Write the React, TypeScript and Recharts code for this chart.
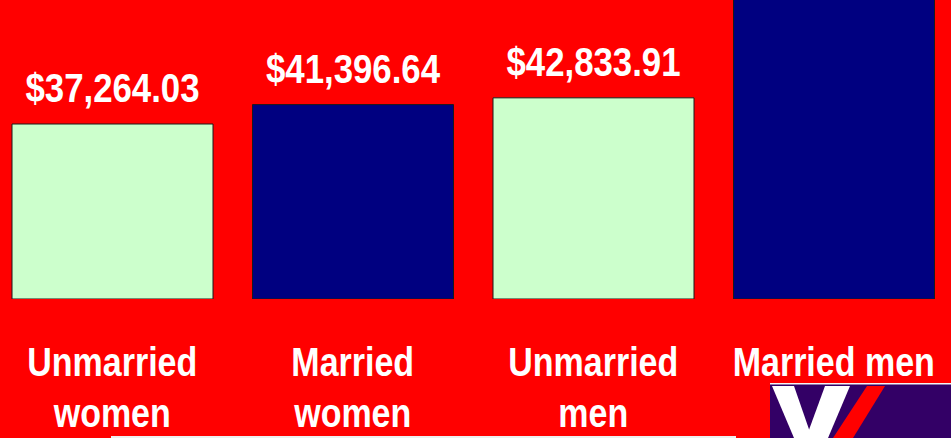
import { BarChart, Bar, XAxis, YAxis, Cell, LabelList } from 'recharts';

const categories = ['Unmarried women', 'Married women', 'Unmarried men', 'Married men'];
const tickLines = [['Unmarried', 'women'], ['Married', 'women'], ['Unmarried', 'men'], ['Married men']];
const incomes = [37264.03, 41396.64, 42833.91, 65000];
const barColors = ['#CCFFCC', '#000080', '#CCFFCC', '#000080'];

const data = categories.map((name, i) => ({ name, income: incomes[i] }));

const FONT = "'Liberation Sans', Arial, sans-serif";

const money = (v: number) =>
  '$' + v.toLocaleString('en-US', { minimumFractionDigits: 2, maximumFractionDigits: 2 });

// narrow bold look of the original slide font
function CategoryTick(props: any) {
  const { x, y, index } = props;
  const lines = tickLines[index] || [];
  return (
    <g>
      {lines.map((line, i) => (
        <text
          key={i}
          transform={`translate(${x} ${y + 77 + i * 51}) scale(0.85 1)`}
          textAnchor="middle"
          fill="#fff"
          fontFamily={FONT}
          fontWeight="bold"
          fontSize={40}
        >
          {line}
        </text>
      ))}
    </g>
  );
}

function ValueLabel(props: any) {
  const { x, y, width, value } = props;
  const ty = y - 22;
  if (ty < 30) return null; // above the slide edge, not visible
  return (
    <text
      transform={`translate(${x + width / 2} ${ty}) scale(0.87 1)`}
      textAnchor="middle"
      fill="#fff"
      fontFamily={FONT}
      fontWeight="bold"
      fontSize={40}
    >
      {money(value)}
    </text>
  );
}

function Logo() {
  return (
    <svg width={181} height={55} style={{ position: 'absolute', left: 770, top: 383 }}>
      <rect x={0} y={0} width={181} height={55} fill="#330066" />
      <rect x={0} y={0} width={181} height={1.5} fill="#f4f4f4" />
      <polygon points="2,3 24,3 42,55 24,55" fill="#fff" />
      <polygon points="55,3 80,3 58,55 36,55" fill="#fff" />
      <polygon points="97,3 115,3 83,55 63,55" fill="#ff0000" />
    </svg>
  );
}

export default function App() {
  return (
    <div
      style={{
        position: 'fixed',
        left: 0,
        top: 0,
        width: 951,
        height: 438,
        background: '#ff0000',
        overflow: 'hidden',
      }}
    >
      <div style={{ position: 'absolute', left: -8, top: 0 }}>
        <BarChart
          width={962}
          height={438}
          data={data}
          margin={{ top: 0, right: 0, left: 0, bottom: 0 }}
          barSize={201}
        >
          <XAxis
            dataKey="name"
            height={139}
            axisLine={false}
            tickLine={false}
            tickSize={0}
            tickMargin={0}
            interval={0}
            tick={<CategoryTick />}
          />
          <YAxis hide domain={[0, 63670]} allowDataOverflow />
          <Bar dataKey="income" stroke="#1a1a1a" strokeWidth={1} isAnimationActive={false}>
            {data.map((d, i) => (
              <Cell key={d.name} fill={barColors[i]} />
            ))}
            <LabelList dataKey="income" content={<ValueLabel />} />
          </Bar>
        </BarChart>
      </div>
      <div
        style={{ position: 'absolute', left: 111, top: 436, width: 625, height: 2, background: '#eeeeee' }}
      />
      <Logo />
    </div>
  );
}
